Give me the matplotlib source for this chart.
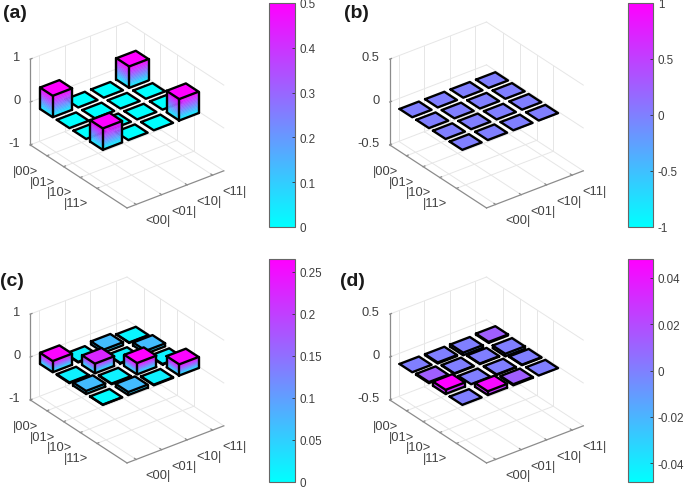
import matplotlib
matplotlib.use('Agg')
import matplotlib.pyplot as plt
from matplotlib.cm import ScalarMappable
from matplotlib.colors import Normalize
from mpl_toolkits.mplot3d import proj3d
from mpl_toolkits.mplot3d.art3d import Poly3DCollection

plt.rcParams['font.family'] = ['Liberation Sans', 'DejaVu Sans']

bra_labels = ['<00|', '<01|', '<10|', '<11|']
ket_labels = ['|00>', '|01>', '|10>', '|11>']

# rows are kets (y), columns are bras (x)
rho_a = [[0.5, 0, 0, 0.5],
         [0, 0, 0, 0],
         [0, 0, 0, 0],
         [0.5, 0, 0, 0.5]]
rho_b = [[0, 0, 0, 0],
         [0, 0, 0, 0],
         [0, 0, 0, 0],
         [0, 0, 0, 0]]
rho_c = [[0.26, 0.015, 0.07, 0.01],
         [0.015, 0.225, 0.015, 0.07],
         [0.07, 0.015, 0.265, 0.015],
         [0.005, 0.07, 0.015, 0.26]]
rho_d = [[0, -0.012, -0.03, 0.012],
         [0.012, -0.006, -0.006, -0.03],
         [0.048, 0, -0.006, -0.006],
         [0, 0.044, 0.012, 0]]

zticks_a = [-1, 0, 1]
zticks_b = [-0.5, 0, 0.5]
cticks_a = [0, 0.1, 0.2, 0.3, 0.4, 0.5]
cticks_b = [-1, -0.5, 0, 0.5, 1]
cticks_c = [0, 0.05, 0.1, 0.15, 0.2, 0.25]
cticks_d = [-0.04, -0.02, 0, 0.02, 0.04]

W, H = 685, 489
XLIM = (0.64, 4.44)
YLIM = (5.8, 0.0)
BAR = 0.76
GRID = '#e6e6e6'
AXC = '#8c8c8c'
TXT = '#404040'
FS = 9.3
S = 217
cmap = plt.get_cmap('cool')

fig = plt.figure(figsize=(6.85, 4.89), dpi=100)


def draw_bar(ax, x, y, v, norm, zo):
    x0, x1 = x - BAR / 2, x + BAR / 2
    y0, y1 = y - BAR / 2, y + BAR / 2
    top = max(v, 0)
    bot = min(v, 0)
    polys, cols = [], []
    if v != 0:
        n = 16
        for i in range(n):
            a = bot + (top - bot) * i / n
            b = bot + (top - bot) * (i + 1) / n
            c = cmap(norm((a + b) / 2))
            polys.append([(x0, y0, a), (x0, y1, a), (x0, y1, b), (x0, y0, b)])
            cols.append(c)
            polys.append([(x0, y1, a), (x1, y1, a), (x1, y1, b), (x0, y1, b)])
            cols.append(c)
    polys.append([(x0, y0, top), (x1, y0, top), (x1, y1, top), (x0, y1, top)])
    cols.append(cmap(norm(top)))
    pc = Poly3DCollection(polys, facecolors=cols, edgecolors=cols, linewidths=0.3, zorder=zo)
    ax.add_collection3d(pc)
    k = dict(color='k', lw=1.7, zorder=zo + 0.5, solid_capstyle='round', solid_joinstyle='round')
    ax.plot([x0, x1, x1, x0, x0], [y0, y0, y1, y1, y0], [top] * 5, **k)
    if v != 0:
        ax.plot([x0, x0, x1], [y0, y1, y1], [bot] * 3, **k)
        for px, py in [(x0, y0), (x0, y1), (x1, y1)]:
            ax.plot([px, px], [py, py], [bot, top], **k)


def label(ax, x, y, z, s, ha, dx=0, dy=0):
    # 3D anchor turned into plain 2D text, dx/dy in pixels
    px, py, _ = proj3d.proj_transform(x, y, z, ax.get_proj())
    unit = 0.185 / S
    ax.text2D(px + dx * unit, py - dy * unit, s, transform=ax.transData, ha=ha, va='center',
              fontsize=FS, color=TXT)


def panel(cx, cy, rho, zticks, vmin, vmax):
    left = cx - 0.5135 * S
    top = cy - (1 - 0.5135) * S
    ax = fig.add_axes([left / W, 1 - (top + S) / H, S / W, S / H],
                      projection='3d', proj_type='ortho', computed_zorder=False)
    ax.set_axis_off()
    ax.view_init(elev=30, azim=-127.5)
    ax.set_box_aspect((122, 159, 99), zoom=1)
    ax.patch.set_alpha(0)
    ax.set_xlim(*XLIM)
    ax.set_ylim(*YLIM)
    ax.set_zlim(zticks[0], zticks[-1])
    zlo, zhi = zticks[0], zticks[-1]
    xa, xb = XLIM
    yb, ya = YLIM
    g = dict(color=GRID, lw=0.7, zorder=1)
    for t in range(1, 5):
        ax.plot([t, t], [ya, yb], [zlo, zlo], **g)
        ax.plot([xa, xb], [t, t], [zlo, zlo], **g)
        ax.plot([t, t], [ya, ya], [zlo, zhi], **g)
        ax.plot([xb, xb], [t, t], [zlo, zhi], **g)
    for z in zticks:
        ax.plot([xa, xb], [ya, ya], [z, z], **g)
        ax.plot([xb, xb], [ya, yb], [z, z], **g)
    a = dict(color=AXC, lw=0.9, zorder=2)
    ax.plot([xa, xa], [ya, yb], [zlo, zlo], **a)
    ax.plot([xa, xb], [yb, yb], [zlo, zlo], **a)
    ax.plot([xa, xa], [ya, ya], [zlo, zhi], **a)
    for i in range(4):
        ax.plot([i + 1, i + 1], [yb, yb - 0.1], [zlo, zlo], **a)
        ax.plot([xa, xa + 0.07], [i + 1, i + 1], [zlo, zlo], **a)
        label(ax, i + 1, yb + 1.33, zlo, bra_labels[i], 'center', dy=1.5)
        label(ax, xa - 1.13, i + 1 + 0.36, zlo, ket_labels[i], 'center', dx=1.5)
    for z in zticks:
        ax.plot([xa, xa + 0.07], [ya, ya], [z, z], **a)
        label(ax, xa - 0.17, ya - 0.33, z, '%g' % z, 'right')
    norm = Normalize(vmin, vmax)
    zo = 10
    for x in range(4, 0, -1):
        for y in range(1, 5):
            draw_bar(ax, x, y, rho[y - 1][x - 1], norm, zo)
            zo += 1


def colorbar(x0, x1, y0, y1, vmin, vmax, ticks):
    cax = fig.add_axes([x0 / W, 1 - y1 / H, (x1 - x0) / W, (y1 - y0) / H])
    cb = fig.colorbar(ScalarMappable(Normalize(vmin, vmax), cmap), cax=cax, ticks=ticks)
    cb.ax.set_yticklabels(['%g' % t for t in ticks])
    cb.ax.tick_params(direction='in', length=2, width=0.6, color='#333333', labelcolor=TXT,
                      labelsize=8.4, pad=3.5)
    cb.outline.set_edgecolor('#666666')
    cb.outline.set_linewidth(0.8)


panel(127, 116, rho_a, zticks_a, 0, 0.5)
panel(486.5, 116, rho_b, zticks_b, -1, 1)
panel(127, 371, rho_c, zticks_a, 0, 0.265)
panel(486.5, 371, rho_d, zticks_b, -0.048, 0.048)

colorbar(269, 295, 4, 228, 0, 0.5, cticks_a)
colorbar(628, 653, 4, 228, -1, 1, cticks_b)
colorbar(269, 295, 260, 483, 0, 0.265, cticks_c)
colorbar(628, 653, 260, 483, -0.048, 0.048, cticks_d)

for s, x, y in [('(a)', 3, 14), ('(b)', 344, 14), ('(c)', 0, 281), ('(d)', 340, 281)]:
    fig.text(x / W, 1 - y / H, s, fontsize=14, fontweight='bold', color='#1a1a1a', va='center')

fig.savefig('out.png', dpi=100)
